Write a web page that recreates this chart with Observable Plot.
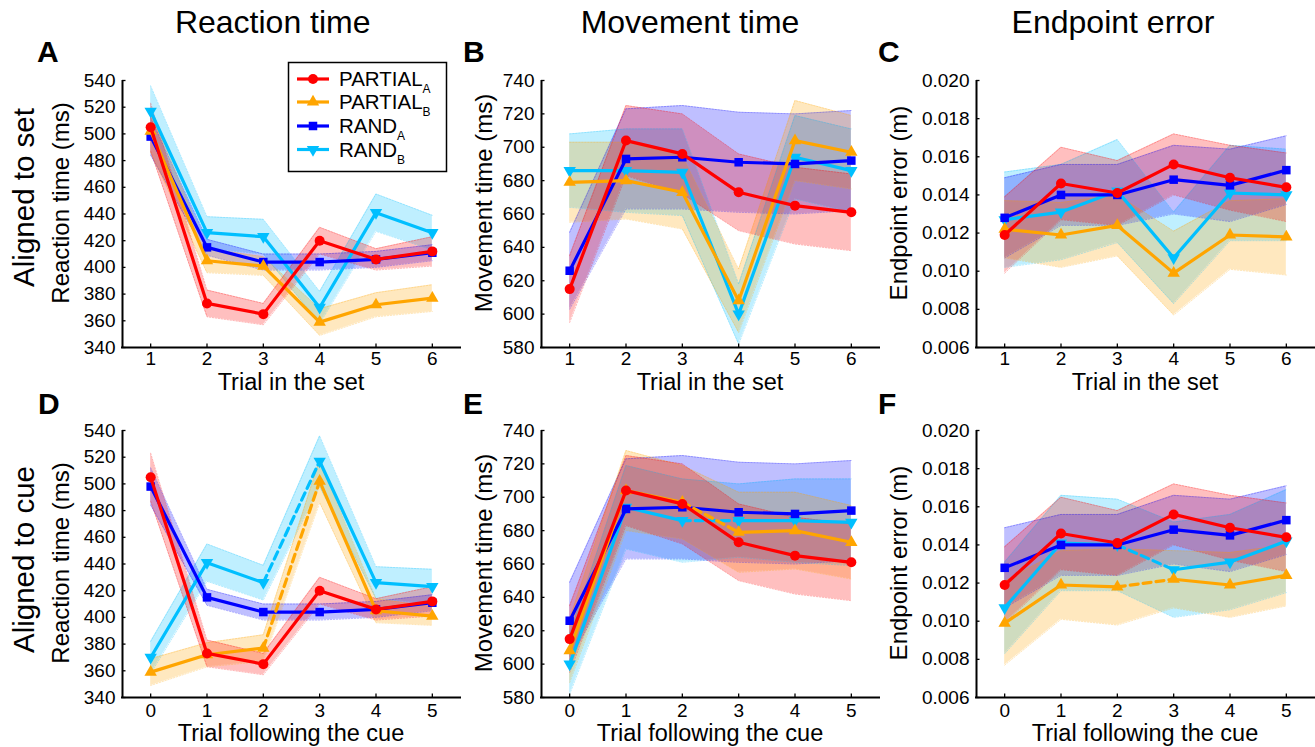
<!DOCTYPE html>
<html><head><meta charset="utf-8">
<script src="https://cdn.jsdelivr.net/npm/d3@7"></script>
<script src="https://cdn.jsdelivr.net/npm/@observablehq/plot@0.6"></script>
<style>
html,body{margin:0;padding:0;background:#fff;overflow:hidden}
#fig{position:relative;width:1315px;height:747px;background:#fff}
#fig > div{position:absolute}
</style></head>
<body><div id="fig"></div>
<script>
// ---------- data ----------
const trialsSet = [1, 2, 3, 4, 5, 6];
const trialsCue = [0, 1, 2, 3, 4, 5];
const rtTicks = [340, 360, 380, 400, 420, 440, 460, 480, 500, 520, 540];
const mtTicks = [580, 600, 620, 640, 660, 680, 700, 720, 740];
const errTicks = [0.006, 0.008, 0.010, 0.012, 0.014, 0.016, 0.018, 0.020];

const seriesKeys = ["PARTIAL_A", "PARTIAL_B", "RAND_A", "RAND_B"];
const seriesBase = ["PARTIAL", "PARTIAL", "RAND", "RAND"];
const seriesSub = ["A", "B", "A", "B"];
const seriesColors = ["#ff0000", "#ffa500", "#0000ff", "#00bfff"];

const columnTitles = ["Reaction time", "Movement time", "Endpoint error"];
const rowTitles = ["Aligned to set", "Aligned to cue"];
const yLabels = ["Reaction time (ms)", "Movement time (ms)", "Endpoint error (m)"];
const xLabels = ["Trial in the set", "Trial following the cue"];
const panelLetters = ["A", "B", "C", "D", "E", "F"];

// series whose cue-aligned curve wraps around (dashed segment)
const wrappedSeries = ["PARTIAL_B", "RAND_B"];
const cueWrapFrom = 2, cueWrapTo = 3;

// A: reaction time, aligned to set
const rtSetPartialA = [505, 373, 365, 420, 406, 412];
const rtSetPartialAErr = [18, 10, 8, 10, 8, 11];
const rtSetPartialB = [502, 405, 401, 359, 372, 377];
const rtSetPartialBErr = [16, 9, 7, 10, 9, 10];
const rtSetRandA = [498, 415, 404, 404, 406, 411];
const rtSetRandAErr = [14, 6, 6, 6, 6, 6];
const rtSetRandB = [517, 426, 423, 370, 441, 426];
const rtSetRandBErr = [19, 12, 13, 12, 14, 13];
// D: reaction time, aligned to cue
const rtCuePartialA = [505, 373, 365, 420, 406, 412];
const rtCuePartialAErr = [18, 10, 8, 10, 8, 11];
const rtCuePartialB = [359, 372, 377, 502, 405, 401];
const rtCuePartialBErr = [10, 9, 10, 16, 9, 7];
const rtCueRandA = [498, 415, 404, 404, 406, 411];
const rtCueRandAErr = [14, 6, 6, 6, 6, 6];
const rtCueRandB = [370, 441, 426, 517, 426, 423];
const rtCueRandBErr = [12, 14, 13, 19, 12, 13];
// B: movement time, aligned to set
const mtSetPartialA = [615, 704, 696, 673, 665, 661];
const mtSetPartialAErr = [20, 21, 24, 23, 23, 23];
const mtSetPartialB = [679, 680, 673, 608, 704, 697];
const mtSetPartialBErr = [24, 23, 22, 19, 24, 22];
const mtSetRandA = [626, 693, 694, 691, 690, 692];
const mtSetRandAErr = [23, 30, 31, 30, 30, 30];
const mtSetRandB = [686, 686, 685, 600, 694, 686];
const mtSetRandBErr = [22, 25, 26, 18, 25, 25];
// E: movement time, aligned to cue
const mtCuePartialA = [615, 704, 696, 673, 665, 661];
const mtCuePartialAErr = [20, 21, 24, 23, 23, 23];
const mtCuePartialB = [608, 704, 697, 679, 680, 673];
const mtCuePartialBErr = [19, 24, 22, 24, 23, 22];
const mtCueRandA = [626, 693, 694, 691, 690, 692];
const mtCueRandAErr = [23, 30, 31, 30, 30, 30];
const mtCueRandB = [600, 694, 686, 686, 686, 685];
const mtCueRandBErr = [18, 25, 25, 22, 25, 26];
// C: endpoint error, aligned to set
const errSetPartialA = [0.0119, 0.0146, 0.0141, 0.0156, 0.0149, 0.0144];
const errSetPartialAErr = [0.0020, 0.0019, 0.0017, 0.0016, 0.0017, 0.0018];
const errSetPartialB = [0.0122, 0.0119, 0.0124, 0.0099, 0.0119, 0.0118];
const errSetPartialBErr = [0.0015, 0.0017, 0.0016, 0.0022, 0.0018, 0.0020];
const errSetRandA = [0.0128, 0.0140, 0.0140, 0.0148, 0.0145, 0.0153];
const errSetRandAErr = [0.0021, 0.0016, 0.0016, 0.0018, 0.0019, 0.0018];
const errSetRandB = [0.0127, 0.0131, 0.0142, 0.0107, 0.0141, 0.0140];
const errSetRandBErr = [0.0025, 0.0025, 0.0027, 0.0024, 0.0025, 0.0024];
// F: endpoint error, aligned to cue
const errCuePartialA = [0.0119, 0.0146, 0.0141, 0.0156, 0.0149, 0.0144];
const errCuePartialAErr = [0.0020, 0.0019, 0.0017, 0.0016, 0.0017, 0.0018];
const errCuePartialB = [0.0099, 0.0119, 0.0118, 0.0122, 0.0119, 0.0124];
const errCuePartialBErr = [0.0022, 0.0018, 0.0020, 0.0015, 0.0017, 0.0016];
const errCueRandA = [0.0128, 0.0140, 0.0140, 0.0148, 0.0145, 0.0153];
const errCueRandAErr = [0.0021, 0.0016, 0.0016, 0.0018, 0.0019, 0.0018];
const errCueRandB = [0.0107, 0.0141, 0.0140, 0.0127, 0.0131, 0.0142];
const errCueRandBErr = [0.0024, 0.0025, 0.0024, 0.0025, 0.0025, 0.0027];

// ---------- layout / style ----------
const FONT = '"Liberation Sans", Arial, Helvetica, sans-serif';
const frameW = 338, frameH = 267;
const colLeft = [122, 541, 976];
const rowTop = [80, 430];
const xTickPad = [4, 6];
const mL = 62, mR = 1, mT = 10, mB = 30;
const colorOf = Object.fromEntries(seriesKeys.map((k, i) => [k, seriesColors[i]]));
const drawOrder = ["RAND_B", "RAND_A", "PARTIAL_B", "PARTIAL_A"];
const sqrt3 = Math.sqrt(3);
const triangleDown = {
  draw(context, size) {
    const y = -Math.sqrt(size / (sqrt3 * 3));
    context.moveTo(0, -y * 2);
    context.lineTo(-sqrt3 * y, y);
    context.lineTo(sqrt3 * y, y);
    context.closePath();
  }
};
const symbolOf = {PARTIAL_A: "circle", PARTIAL_B: "triangle", RAND_A: "square", RAND_B: triangleDown};
const rOf = {PARTIAL_A: 5, PARTIAL_B: 4.6, RAND_A: 4.8, RAND_B: 4.6};

const fmt3 = d3.format(".3f");
const panels = [
  {row: 0, col: 0, trials: trialsSet, xDomain: [0.5, 6.5], yDomain: [340, 540], yTicks: rtTicks, fmt: d => d, wrap: false,
   series: {PARTIAL_A: [rtSetPartialA, rtSetPartialAErr], PARTIAL_B: [rtSetPartialB, rtSetPartialBErr], RAND_A: [rtSetRandA, rtSetRandAErr], RAND_B: [rtSetRandB, rtSetRandBErr]}},
  {row: 0, col: 1, trials: trialsSet, xDomain: [0.5, 6.5], yDomain: [580, 740], yTicks: mtTicks, fmt: d => d, wrap: false,
   series: {PARTIAL_A: [mtSetPartialA, mtSetPartialAErr], PARTIAL_B: [mtSetPartialB, mtSetPartialBErr], RAND_A: [mtSetRandA, mtSetRandAErr], RAND_B: [mtSetRandB, mtSetRandBErr]}},
  {row: 0, col: 2, trials: trialsSet, xDomain: [0.5, 6.5], yDomain: [0.006, 0.020], yTicks: errTicks, fmt: fmt3, wrap: false,
   series: {PARTIAL_A: [errSetPartialA, errSetPartialAErr], PARTIAL_B: [errSetPartialB, errSetPartialBErr], RAND_A: [errSetRandA, errSetRandAErr], RAND_B: [errSetRandB, errSetRandBErr]}},
  {row: 1, col: 0, trials: trialsCue, xDomain: [-0.5, 5.5], yDomain: [340, 540], yTicks: rtTicks, fmt: d => d, wrap: true,
   series: {PARTIAL_A: [rtCuePartialA, rtCuePartialAErr], PARTIAL_B: [rtCuePartialB, rtCuePartialBErr], RAND_A: [rtCueRandA, rtCueRandAErr], RAND_B: [rtCueRandB, rtCueRandBErr]}},
  {row: 1, col: 1, trials: trialsCue, xDomain: [-0.5, 5.5], yDomain: [580, 740], yTicks: mtTicks, fmt: d => d, wrap: true,
   series: {PARTIAL_A: [mtCuePartialA, mtCuePartialAErr], PARTIAL_B: [mtCuePartialB, mtCuePartialBErr], RAND_A: [mtCueRandA, mtCueRandAErr], RAND_B: [mtCueRandB, mtCueRandBErr]}},
  {row: 1, col: 2, trials: trialsCue, xDomain: [-0.5, 5.5], yDomain: [0.006, 0.020], yTicks: errTicks, fmt: fmt3, wrap: true,
   series: {PARTIAL_A: [errCuePartialA, errCuePartialAErr], PARTIAL_B: [errCuePartialB, errCuePartialBErr], RAND_A: [errCueRandA, errCueRandAErr], RAND_B: [errCueRandB, errCueRandBErr]}}
];

const fig = document.getElementById("fig");

for (const p of panels) {
  const rowsBy = {};
  for (const k of drawOrder) {
    const [vals, errs] = p.series[k];
    const wraps = p.wrap && wrappedSeries.includes(k);
    rowsBy[k] = p.trials.map((t, i) => ({
      x: t, y: vals[i], lo: vals[i] - errs[i], hi: vals[i] + errs[i],
      seg: wraps && t > cueWrapFrom ? "b" : "a"
    }));
  }
  const marks = [];
  for (const k of drawOrder) {
    marks.push(Plot.areaY(rowsBy[k], {x: "x", y1: "lo", y2: "hi", fill: colorOf[k], fillOpacity: 0.25}));
  }
  for (const k of drawOrder) {
    for (const edge of ["lo", "hi"]) {
      marks.push(Plot.line(rowsBy[k], {x: "x", y: edge, stroke: colorOf[k], strokeOpacity: 0.28, strokeWidth: 1, strokeDasharray: "1.5,1.5"}));
    }
  }
  for (const k of drawOrder) {
    marks.push(Plot.line(rowsBy[k], {x: "x", y: "y", z: "seg", stroke: colorOf[k], strokeWidth: 3.2, strokeLinejoin: "miter"}));
    if (p.wrap && wrappedSeries.includes(k)) {
      marks.push(Plot.line(rowsBy[k].filter(d => d.x === cueWrapFrom || d.x === cueWrapTo),
        {x: "x", y: "y", stroke: colorOf[k], strokeWidth: 3.2, strokeDasharray: "8,5"}));
    }
    marks.push(Plot.dot(rowsBy[k], {x: "x", y: "y", symbol: symbolOf[k], r: rOf[k], fill: colorOf[k], stroke: "none"}));
  }
  // axes (MATLAB style: left + bottom lines, inward ticks)
  marks.push(Plot.tickX(p.trials, {x: d => d, insetTop: frameH - 3.5, stroke: "black", strokeWidth: 1.3}));
  marks.push(Plot.tickY(p.yTicks, {y: d => d, insetRight: frameW - 3.5, stroke: "black", strokeWidth: 1.3}));
  marks.push(Plot.ruleX([p.xDomain[0]], {stroke: "black", strokeWidth: 2}));
  marks.push(Plot.ruleY([p.yDomain[0]], {stroke: "black", strokeWidth: 2, strokeLinecap: "square"}));
  marks.push(Plot.axisX({ticks: p.trials, tickSize: 0, tickPadding: xTickPad[p.row], label: null, tickFormat: d => d, fontSize: 19}));
  marks.push(Plot.axisY({ticks: p.yTicks, tickSize: 0, tickPadding: 7, label: null, tickFormat: p.fmt, fontSize: 19}));

  const chart = Plot.plot({
    width: frameW + mL + mR, height: frameH + mT + mB,
    marginLeft: mL, marginRight: mR, marginTop: mT, marginBottom: mB,
    x: {domain: p.xDomain},
    y: {domain: p.yDomain},
    style: {fontSize: "19px", fontFamily: FONT, color: "black", background: "transparent", overflow: "visible"},
    marks
  });
  const holder = document.createElement("div");
  holder.style.left = (colLeft[p.col] - mL) + "px";
  holder.style.top = (rowTop[p.row] - mT) + "px";
  holder.appendChild(chart);
  fig.appendChild(holder);
}

// ---------- text overlay & legend ----------
const svg = d3.select(fig).append("svg")
  .attr("width", 1315).attr("height", 747)
  .style("position", "absolute").style("left", 0).style("top", 0)
  .style("font-family", FONT).style("overflow", "visible");

function text(x, y, s, size, o = {}) {
  const t = svg.append("text").attr("x", x).attr("y", y).attr("font-size", size)
    .attr("text-anchor", o.anchor || "middle").attr("fill", "black").text(s);
  if (o.bold) t.attr("font-weight", "bold");
  if (o.rotate) t.attr("transform", `rotate(-90 ${x} ${y})`);
  return t;
}

const titleX = [272.7, 690, 1113];
columnTitles.forEach((s, i) => text(titleX[i], 33, s, 32));

const letterPos = [[37, 62], [463, 62], [878, 62], [38, 414], [463, 414], [878, 414]];
panelLetters.forEach((s, i) => text(letterPos[i][0], letterPos[i][1], s, 30, {anchor: "start", bold: true}));

const rowCenterY = [197.5, 559.5];
rowTitles.forEach((s, i) => text(34, rowCenterY[i], s, 29.5, {rotate: true}));

const yLabBase = [69, 492, 907];
const yLabCenter = [203, 563];
for (let r = 0; r < 2; r++) for (let c = 0; c < 3; c++) text(yLabBase[c], yLabCenter[r], yLabels[c], 24, {rotate: true});

const xLabCenter = [291, 710, 1145];
const xLabBase = [389.5, 741];
for (let r = 0; r < 2; r++) for (let c = 0; c < 3; c++) text(xLabCenter[c], xLabBase[r], xLabels[r], 23.5);

// legend (panel A)
const lg = svg.append("g");
lg.append("rect").attr("x", 288.5).attr("y", 62.5).attr("width", 158).attr("height", 109)
  .attr("fill", "white").attr("stroke", "black").attr("stroke-width", 1.5);
const legendRowY = [79, 102, 126, 149.5];
seriesKeys.forEach((k, i) => {
  const y = legendRowY[i];
  lg.append("line").attr("x1", 297).attr("x2", 329).attr("y1", y).attr("y2", y)
    .attr("stroke", colorOf[k]).attr("stroke-width", 3.2);
  const sym = typeof symbolOf[k] === "string"
    ? {circle: d3.symbolCircle, triangle: d3.symbolTriangle, square: d3.symbolSquare}[symbolOf[k]]
    : symbolOf[k];
  lg.append("path").attr("d", d3.symbol(sym, rOf[k] * rOf[k] * Math.PI)())
    .attr("transform", `translate(313,${y})`).attr("fill", colorOf[k]);
  const t = lg.append("text").attr("x", 339).attr("y", y + 7).attr("font-size", 20.5).attr("fill", "black");
  t.append("tspan").text(seriesBase[i]);
  t.append("tspan").attr("font-size", 12).attr("dy", 7).text(seriesSub[i]);
});
</script>
</body></html>
